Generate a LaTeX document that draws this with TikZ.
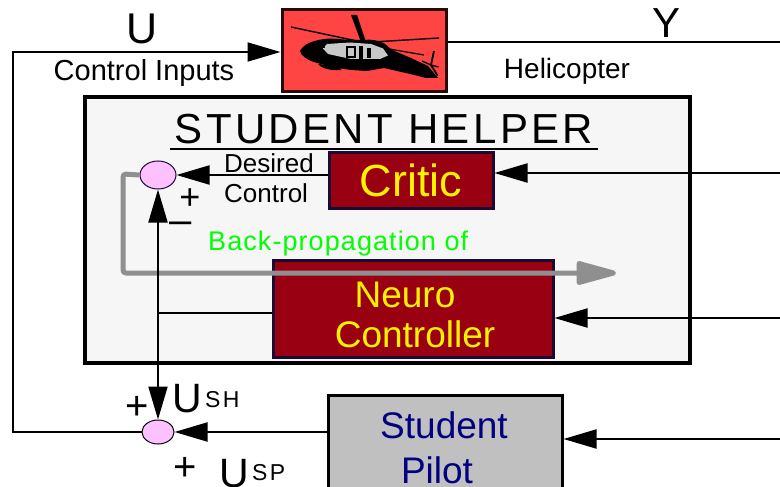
\documentclass[tikz,border=0pt]{standalone}
\usepackage{fontspec}
\setmainfont{Liberation Sans}
\usetikzlibrary{arrows.meta,shapes.geometric}
\definecolor{helired}{RGB}{255,68,68}
\definecolor{heliedge}{RGB}{40,8,8}
\definecolor{boxred}{RGB}{153,0,17}
\definecolor{boxnavy}{RGB}{26,10,51}
\definecolor{sumpink}{RGB}{255,192,255}
\definecolor{pilotgray}{RGB}{192,192,192}
\definecolor{pilotblue}{RGB}{0,0,128}
\definecolor{helperbg}{RGB}{246,246,246}
\definecolor{bpgray}{RGB}{143,143,143}
\definecolor{bpgreen}{RGB}{0,255,0}
\definecolor{helgray}{RGB}{200,200,200}
\newcommand{\setfs}[1]{\fontsize{#1}{#1}\selectfont}
\tikzset{
  conn/.style={line width=2pt, draw=black},
  arr/.style={conn, -{Triangle[length=33pt,width=19pt]}},
  redbox/.style={draw=boxnavy, line width=3pt, fill=boxred, inner sep=0pt},
  sumnode/.style={ellipse, fill=sumpink, draw, line width=1pt, inner sep=0pt},
  lbl/.style={anchor=base, inner sep=0pt},
  lbll/.style={anchor=base west, inner sep=0pt},
  yel/.style={text=yellow},
}
\begin{document}
\begin{tikzpicture}[x=1pt,y=-1pt]
\useasboundingbox (0,0) rectangle (780,487);
\clip (0,0) rectangle (780,487);
\fill[white] (0,0) rectangle (780,487);

% student helper frame
\node[draw=black, line width=4pt, fill=helperbg, minimum width=605pt, minimum height=266pt, inner sep=0pt] (helper) at (387.5,230) {};

% helicopter box
\node[draw=heliedge, line width=3pt, fill=helired, minimum width=164pt, minimum height=82pt, inner sep=0pt] (heli) at (364,51) {};

% helicopter silhouette
\begin{scope}
  % main rotor blades
  \draw[line width=1.4pt] (291,27) -- (364,42.5);
  \draw[line width=1.4pt] (364,42.5) -- (439,38);
  \draw[line width=1.2pt] (366,45) -- (424,55);
  \fill (351,15) -- (357,15) -- (366,42) -- (361,42) -- cycle;
  % fuselage
  \fill (300,51) .. controls (303,44) and (315,39) .. (331,38.5)
        -- (344,39.5) -- (364,40) .. controls (370,39) and (378,40) .. (385,44)
        -- (392,50) -- (411,58) -- (428,66) -- (438,78) -- (426,78)
        -- (410,74) -- (384,68) -- (367,71) -- (351,70) -- (337,68)
        -- (317,63) .. controls (307,60) and (301,56) .. cycle;
  % grey side
  \fill[helgray] (327,44) -- (350,42.5) -- (371,44) -- (383,48.5) -- (388,55.5)
        -- (380,59) -- (351,59) -- (328,54) -- (323,48.5) -- cycle;
  \fill (346,46.5) rectangle (356,58);
  \fill[helgray] (348,48.5) rectangle (354,56);
  \fill (359,46.5) rectangle (362.5,59);
  \fill (367,48) rectangle (370.5,58);
  \fill (304,48) .. controls (308,44) and (315,42) .. (322,42) -- (325,48) -- cycle;
  \fill (318,64) .. controls (322,69) and (333,71) .. (341,70) -- (339,66) -- cycle;
  % tail rotor
  \draw[line width=1.8pt] (431,65) -- (434,51);
  \draw[line width=1.8pt] (431,65) -- (437.5,75.5);
  \draw[line width=1.3pt] (431,65) -- (422,61);
  \draw[line width=1.3pt] (431,65) -- (438.5,67);
\end{scope}

% critic, neuro controller, student pilot
\node[redbox, minimum width=164pt, minimum height=56pt, yel, font=\setfs{45}] (critic) at (411,180) {Critic};
\node[redbox, minimum width=280pt, minimum height=97pt] (neuro) at (413,308.5) {};
\node[lbl, yel, font=\setfs{37}] (neurot1) at (405,307) {Neuro};
\node[lbl, yel, font=\setfs{37}] (neurot2) at (415,347) {Controller};
\node[draw=black, line width=3pt, fill=pilotgray, minimum width=234pt, minimum height=110pt, inner sep=0pt] (pilot) at (445,450) {};
\node[lbl, text=pilotblue, font=\setfs{37}] (pilott1) at (444,438) {Student};
\node[lbl, text=pilotblue, font=\setfs{37}] (pilott2) at (437,483) {Pilot};

% summing junctions
\node[sumnode, draw=boxnavy, minimum width=36pt, minimum height=28pt] (topsum) at (158,175) {};
\node[sumnode, minimum width=32pt, minimum height=24pt] (botsum) at (158,432) {};

% title
\node[lbl, font=\setfs{42}\addfontfeature{LetterSpace=8}] (title) at (384,143) {STUDENT HELPER};
\coordinate (ul1) at (170,149);
\coordinate (ul2) at (598,149);
\draw[line width=2pt] (ul1) -- (ul2);

% top labels
\node[lbl, font=\setfs{43}] (ulab) at (142,44) {U};
\node[lbl, font=\setfs{42}] (ylab) at (667,38) {Y};
\node[lbl, font=\setfs{29}] (cilab) at (144,81) {Control Inputs};
\node[lbl, font=\setfs{28}] (hlab) at (567,79) {Helicopter};

% desired control
\node[lbll, font=\setfs{26}] (des) at (224,172) {Desired};
\node[lbll, font=\setfs{26}] (con) at (224,202) {Control};
\node[font=\setfs{36}, inner sep=0pt] (plus1) at (190,199) {+};
\node[font=\setfs{40}, inner sep=0pt] (minus1) at (181,228) {–};
\node[lbll, text=bpgreen, font=\setfs{27}\addfontfeature{LetterSpace=4}] (bp) at (208,250) {Back-propagation of};

% lower labels
\node[font=\setfs{40}, inner sep=0pt] (plus2) at (137,408) {+};
\node[lbll, font=\setfs{41}] (ush) at (172,412) {U};
\node[lbll, font=\setfs{23}\addfontfeature{LetterSpace=10}] (ushs) at (205,407) {SH};
\node[font=\setfs{40}, inner sep=0pt] (plus3) at (185,469) {+};
\node[lbll, font=\setfs{41}] (usp) at (219,487) {U};
\node[lbll, font=\setfs{23}\addfontfeature{LetterSpace=10}] (usps) at (252,480) {SP};

% gray back-propagation arrow
\coordinate (g1) at (123,174);
\coordinate (g2) at (123,273);
\coordinate (g3) at (616,273);
\draw[bpgray, line width=5pt, rounded corners=3pt, -{Triangle[length=47pt,width=24pt,round]}] (topsum.west) -- (g1) -- (g2) -- (g3);

% connectors
\coordinate (yo) at (780,42);
\coordinate (ic) at (780,173);
\coordinate (in) at (780,318);
\coordinate (ip) at (780,439);
\coordinate (cL) at (13,432);
\coordinate (cT) at (13,52);
\coordinate (j) at (158,313);

\draw[conn, line width=2.5pt] (yo -| heli.east) -- (yo);
\draw[arr] (ic) -- (ic -| critic.east);
\draw[arr] (in) -- (in -| neuro.east);
\draw[arr] (ip) -- (ip -| pilot.east);
\draw[arr] (critic.west |- topsum) -- (topsum.east);
\draw[conn] (neuro.west |- j) -- (j);
\draw[arr] (j) -- (topsum.south);
\draw[arr] (j) -- (botsum.north);
\draw[arr] (pilot.west |- botsum) -- (botsum.east);
\draw[arr] (botsum.west) -- (cL) -- (cT) -- (heli.west |- cT);
\end{tikzpicture}
\end{document}
